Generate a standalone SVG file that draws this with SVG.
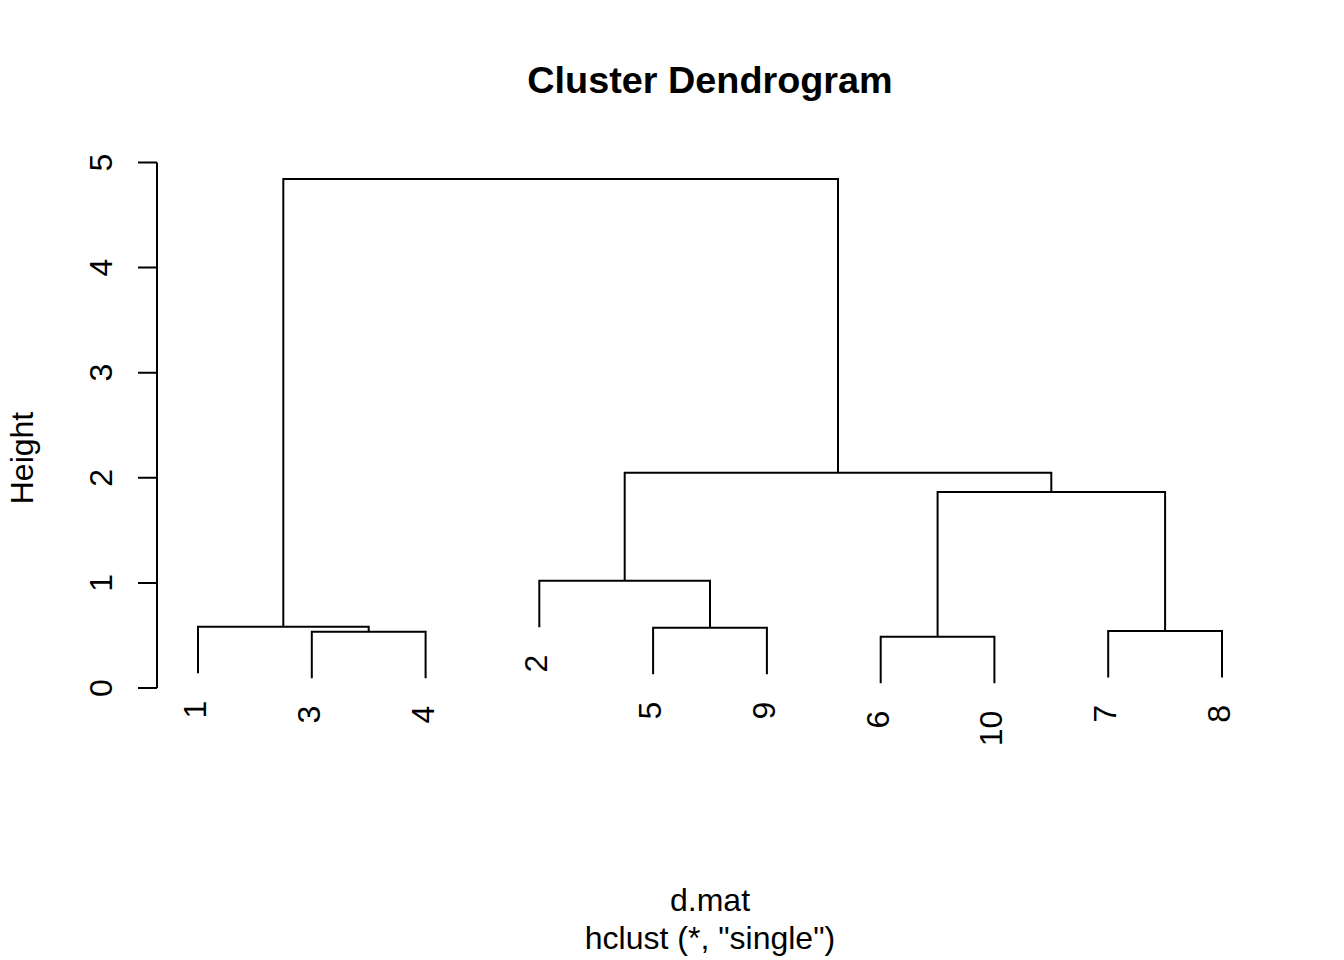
<svg xmlns="http://www.w3.org/2000/svg" width="1344" height="960" viewBox="0 0 1344 960">
<style>
text{font-family:"Liberation Sans",Arial,sans-serif;fill:#000;font-size:32px}
.title{font-size:37.8px;font-weight:bold}
.ln{fill:none;stroke:#000;stroke-width:2;stroke-linecap:butt;stroke-linejoin:miter}
</style>
<rect x="0" y="0" width="1344" height="960" fill="#fff"/>
<g id="title"><text class="title" x="710" y="92.5" text-anchor="middle">Cluster Dendrogram</text></g>
<g id="axis">
<path class="ln" d="M157,688V162.5M138,688H157M138,582.9H157M138,477.8H157M138,372.7H157M138,267.6H157M138,162.5H157"/>
<text transform="translate(112,688) rotate(-90)" text-anchor="middle">0</text>
<text transform="translate(112,582.9) rotate(-90)" text-anchor="middle">1</text>
<text transform="translate(112,477.8) rotate(-90)" text-anchor="middle">2</text>
<text transform="translate(112,372.7) rotate(-90)" text-anchor="middle">3</text>
<text transform="translate(112,267.6) rotate(-90)" text-anchor="middle">4</text>
<text transform="translate(112,162.5) rotate(-90)" text-anchor="middle">5</text>
<text transform="translate(33,458) rotate(-90)" text-anchor="middle">Height</text>
</g>
<g id="connectors">
<path class="ln" d="M283.3,626.7V179H838V472.7"/>
<path class="ln" d="M624.7,580.7V472.7H1051.3V492"/>
<path class="ln" d="M937.6,636.7V492H1165.1V631"/>
<path class="ln" d="M880.7,683.3V636.7H994.4V683.3"/>
<path class="ln" d="M1108.2,677.6V631H1222V677.6"/>
<path class="ln" d="M539.3,627.3V580.7H710V627.7"/>
<path class="ln" d="M653.1,674.3V627.7H766.9V674.3"/>
<path class="ln" d="M198,673.3V626.7H368.7V631.7"/>
<path class="ln" d="M311.8,678.3V631.7H425.6V678.3"/>
</g>
<g id="leaf-1"><text transform="translate(206,700.6) rotate(-90)" text-anchor="end">1</text></g>
<g id="leaf-3"><text transform="translate(319.8,705.6) rotate(-90)" text-anchor="end">3</text></g>
<g id="leaf-4"><text transform="translate(433.6,705.6) rotate(-90)" text-anchor="end">4</text></g>
<g id="leaf-2"><text transform="translate(547.3,654.6) rotate(-90)" text-anchor="end">2</text></g>
<g id="leaf-5"><text transform="translate(661.1,701.6) rotate(-90)" text-anchor="end">5</text></g>
<g id="leaf-9"><text transform="translate(774.9,701.6) rotate(-90)" text-anchor="end">9</text></g>
<g id="leaf-6"><text transform="translate(888.7,710.6) rotate(-90)" text-anchor="end">6</text></g>
<g id="leaf-10"><text transform="translate(1002.4,710.6) rotate(-90)" text-anchor="end">10</text></g>
<g id="leaf-7"><text transform="translate(1116.2,704.9) rotate(-90)" text-anchor="end">7</text></g>
<g id="leaf-8"><text transform="translate(1230,704.9) rotate(-90)" text-anchor="end">8</text></g>
<g id="labels">
<text x="710" y="911" text-anchor="middle">d.mat</text>
<text x="710" y="949" text-anchor="middle">hclust (*, "single")</text>
</g>
</svg>
